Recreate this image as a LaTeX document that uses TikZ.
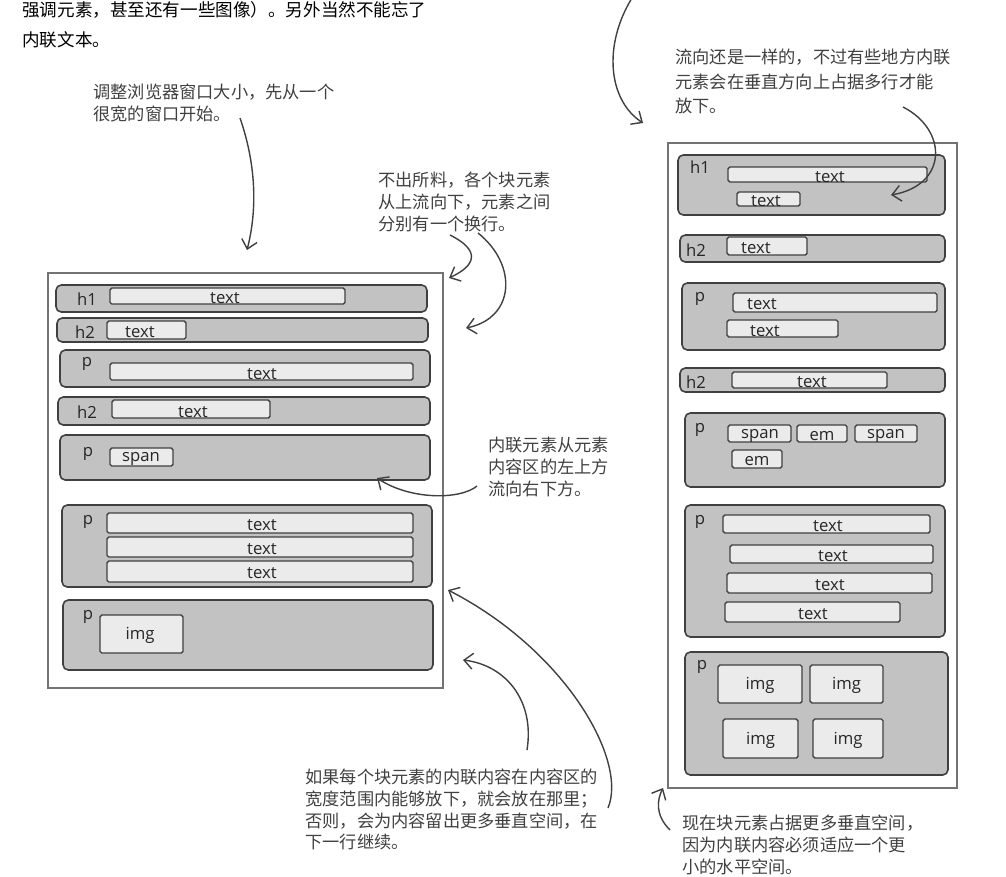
\documentclass[tikz,border=0pt]{standalone}
\usepackage{fontspec}
\setsansfont{Open Sans}
\newfontfamily\cjk{Noto Sans CJK SC}
\usetikzlibrary{arrows.meta}
\tikzset{>={Straight Barb[length=5pt,width=9pt]}}
\tikzset{
  win/.style={draw=black!55,line width=0.8pt},
  bar/.style={draw=black!75,fill=black!24,line width=0.9pt,rounded corners=3pt},
  inbox/.style={draw=black!75,fill=black!8,line width=0.8pt,rounded corners=1pt},
  tag/.style={font=\sffamily\fontsize{9.5}{11}\selectfont,inner sep=0pt,text=black!85,yshift=-0.9pt},
  note/.style={font=\cjk\fontsize{9.8}{12.3}\selectfont,text=black!75,align=left,anchor=north west,inner sep=0pt},
  arr/.style={->,draw=black!75,line width=0.8pt}
}

\begin{document}
\begin{tikzpicture}[x=0.02cm,y=-0.02cm]
  \useasboundingbox (0,0) rectangle (1006,876);
  % printed text above
  \node[anchor=west,inner sep=0pt,font=\cjk\fontsize{10}{12}\selectfont] (top1) at (22,10) {强调元素，甚至还有一些图像）。另外当然不能忘了};
  \node[anchor=west,inner sep=0pt,font=\cjk\fontsize{10}{12}\selectfont] (top2) at (22,40) {内联文本。};

  % wide window
  \draw[win] (48,273) rectangle (443,688);
  \draw[bar] (56,285) rectangle (427,312);
  \node[tag] (lh1) at (87,298) {h1};
  \draw[inbox] (110,288) rectangle (345,304);
  \node[tag] (lh1t) at (225,296) {text};
  \draw[bar] (57,318) rectangle (428,342);
  \node[tag] (lh2) at (85,331) {h2};
  \draw[inbox] (107,321) rectangle (186,339);
  \node[tag] (lh2t) at (140,330) {text};
  \draw[bar] (60,350) rectangle (430,387);
  \node[tag] (lp1) at (87,362) {p};
  \draw[inbox] (110,363) rectangle (413,380);
  \node[tag] (lp1t) at (262,372) {text};
  \draw[bar] (58,397) rectangle (430,425);
  \node[tag] (lh3) at (87,411) {h2};
  \draw[inbox] (112,400) rectangle (270,418);
  \node[tag] (lh3t) at (193,410) {text};
  \draw[bar] (60,435) rectangle (430,480);
  \node[tag] (lp2) at (88,452) {p};
  \draw[inbox] (110,448) rectangle (173,466);
  \node[tag] (lp2s) at (141,457) {span};
  \draw[bar] (62,505) rectangle (432,587);
  \node[tag] (lp3) at (88,520) {p};
  \foreach \ya/\yb [count=\i] in {513/533,537/557,561/582}{
    \draw[inbox] (107,\ya) rectangle (413,\yb);
    \node[tag] (lp3t\i) at (262,{(\ya+\yb)/2}) {text};
  }
  \draw[bar] (63,600) rectangle (433,670);
  \node[tag] (lp4) at (88,615) {p};
  \draw[inbox] (100,615) rectangle (183,653);
  \node[tag] (lp4i) at (140,634) {img};

  % narrow window
  \draw[win] (668,143) rectangle (957,788);
  \draw[bar] (678,155) rectangle (945,215);
  \node[tag] (rh1) at (700,166) {h1};
  \draw[inbox] (728,167) rectangle (927,182);
  \node[tag] (rh1a) at (830,175) {text};
  \draw[inbox] (737,192) rectangle (800,206);
  \node[tag] (rh1b) at (766,199) {text};
  \draw[bar] (680,235) rectangle (945,262);
  \node[tag] (rh2) at (696,249) {h2};
  \draw[inbox] (727,237) rectangle (807,255);
  \node[tag] (rh2t) at (756,246) {text};
  \draw[bar] (682,283) rectangle (945,350);
  \node[tag] (rp1) at (700,297) {p};
  \draw[inbox] (733,293) rectangle (937,312);
  \node[tag] (rp1a) at (762,302) {text};
  \draw[inbox] (727,320) rectangle (838,337);
  \node[tag] (rp1b) at (765,329) {text};
  \draw[bar] (680,368) rectangle (945,392);
  \node[tag] (rh3) at (696,381) {h2};
  \draw[inbox] (732,372) rectangle (887,388);
  \node[tag] (rh3t) at (812,380) {text};
  \draw[bar] (685,413) rectangle (945,487);
  \node[tag] (rp2) at (700,428) {p};
  \draw[inbox] (728,425) rectangle (791,442);
  \node[tag] (rp2a) at (760,434) {span};
  \draw[inbox] (797,425) rectangle (847,442);
  \node[tag] (rp2b) at (822,434) {em};
  \draw[inbox] (855,425) rectangle (917,442);
  \node[tag] (rp2c) at (886,434) {span};
  \draw[inbox] (732,450) rectangle (782,468);
  \node[tag] (rp2d) at (757,459) {em};
  \draw[bar] (685,505) rectangle (945,637);
  \node[tag] (rp3) at (700,520) {p};
  \foreach \xa/\ya/\xb/\yb/\xt [count=\i] in {723/515/930/533/828,730/545/933/563/833,727/573/932/593/830,725/602/900/622/813}{
    \draw[inbox] (\xa,\ya) rectangle (\xb,\yb);
    \node[tag] (rp3t\i) at (\xt,{(\ya+\yb)/2}) {text};
  }
  \draw[bar] (685,652) rectangle (948,775);
  \node[tag] (rp4) at (702,665) {p};
  \foreach \xa/\ya/\xb/\yb [count=\i] in {718/665/802/703,810/665/883/703,723/719/798/758,813/719/883/758}{
    \draw[inbox] (\xa,\ya) rectangle (\xb,\yb);
    \node[tag] (rp4i\i) at ({(\xa+\xb)/2},{(\ya+\yb)/2}) {img};
  }

  % notes
  \node[note] (n1) at (93,84) {调整浏览器窗口大小，先从一个\\很宽的窗口开始。};
  \node[note] (n2) at (378,172) {不出所料，各个块元素\\从上流向下，元素之间\\分别有一个换行。};
  \node[note] (n3) at (488,437) {内联元素从元素\\内容区的左上方\\流向右下方。};
  \node[note] (n4) at (305,769) {如果每个块元素的内联内容在内容区的\\宽度范围内能够放下，就会放在那里；\\否则，会为内容留出更多垂直空间，在\\下一行继续。};
  \node[note,font=\cjk\fontsize{9.8}{13.8}\selectfont] (n5) at (675,49) {流向还是一样的，不过有些地方内联\\元素会在垂直方向上占据多行才能\\放下。};
  \node[note] (n6) at (682,815) {现在块元素占据更多垂直空间，\\因为内联内容必须适应一个更\\小的水平空间。};

  % arrows
  \coordinate (a1s) at (240,118);  \coordinate (a1e) at (247,250);
  \coordinate (a2s) at (450,235);  \coordinate (a2e) at (449,278);
  \coordinate (a3s) at (478,233);  \coordinate (a3e) at (466,328);
  \coordinate (a4s) at (477,486);  \coordinate (a4e) at (377,478);
  \coordinate (a5s) at (527,750);  \coordinate (a5e) at (463,660);
  \coordinate (a6s) at (608,808);  \coordinate (a6e) at (448,590);
  \coordinate (a7s) at (632,-2);   \coordinate (a7e) at (643,123);
  \coordinate (a8s) at (903,107);  \coordinate (a8e) at (891,195);
  \coordinate (a9s) at (670,830);  \coordinate (a9e) at (663,788);
  \draw[arr] (a1s) .. controls (258,170) and (256,215) .. (a1e);
  \draw[arr] (a2s) .. controls (480,250) and (477,265) .. (a2e);
  \draw[arr] (a3s) .. controls (518,265) and (515,318) .. (a3e);
  \draw[arr] (a4s) .. controls (460,500) and (410,500) .. (a4e);
  \draw[arr] (a5s) .. controls (535,700) and (505,665) .. (a5e);
  \draw[arr] (a6s) .. controls (628,760) and (565,650) .. (a6e);
  \draw[arr] (a7s) .. controls (603,45) and (608,100) .. (a7e);
  \draw[arr] (a8s) .. controls (948,130) and (948,185) .. (a8e);
  \draw[arr] (a9s) .. controls (655,815) and (657,800) .. (a9e);
\end{tikzpicture}
\end{document}
